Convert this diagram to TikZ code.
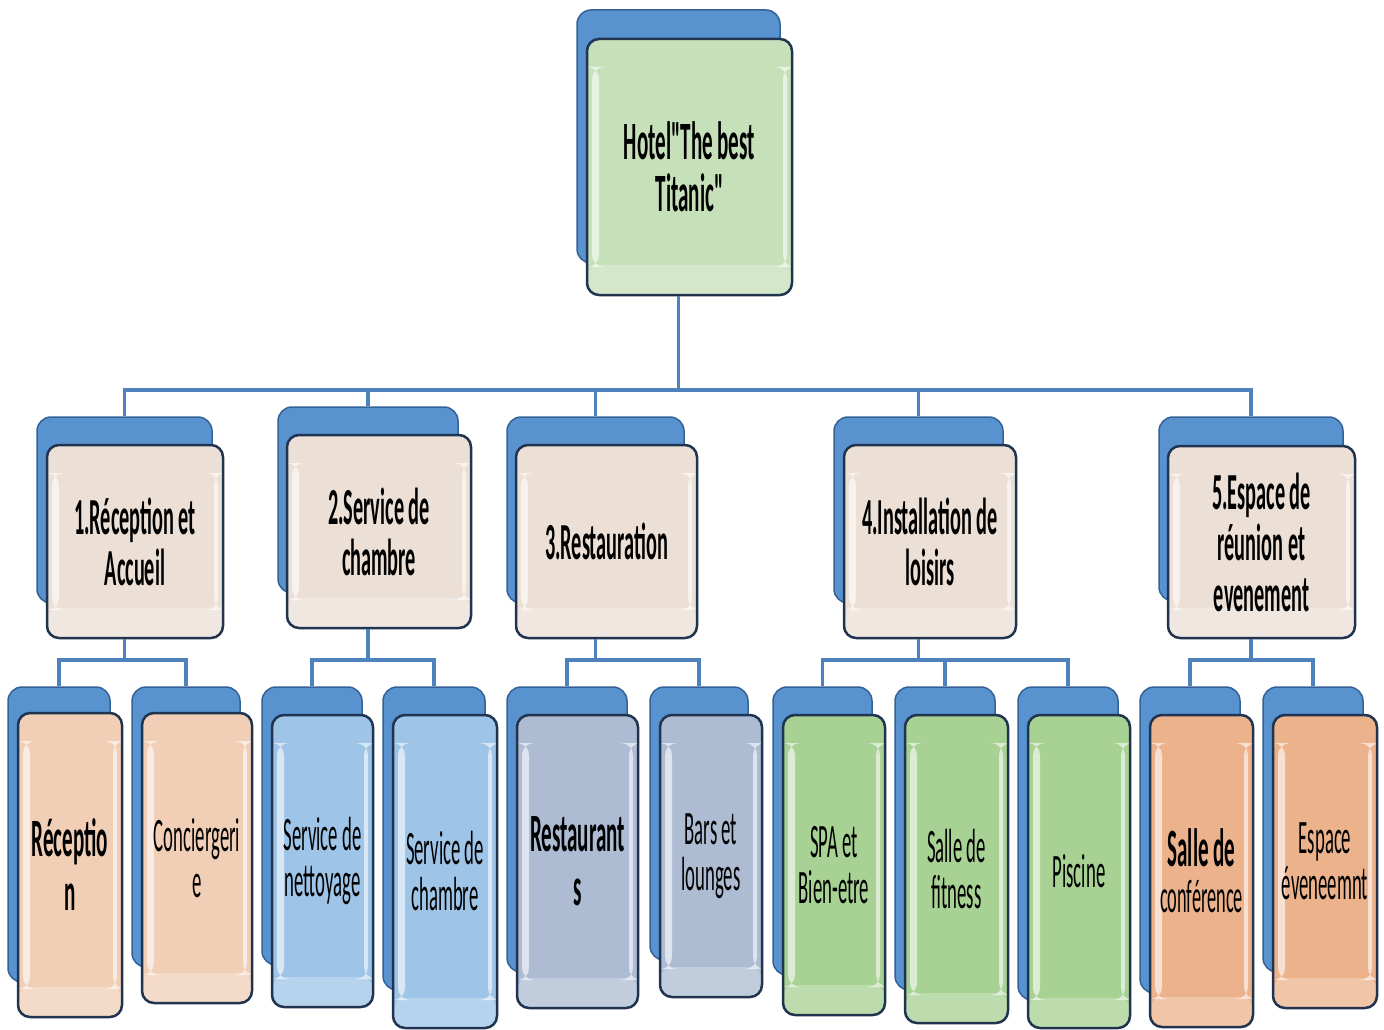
\documentclass[tikz,border=0pt]{standalone}
\usepackage{fontspec}
\newfontfamily\orgfont[FakeStretch=0.39]{Carlito}

\definecolor{backblue}{RGB}{88,146,207}
\definecolor{backline}{RGB}{52,98,150}
\definecolor{frontline}{RGB}{32,52,80}
\definecolor{linkblue}{RGB}{79,129,189}
\definecolor{hotelgreen}{RGB}{198,224,186}
\definecolor{levelbeige}{RGB}{236,224,214}
\definecolor{accpeach}{RGB}{241,206,182}
\definecolor{servblue}{RGB}{158,197,232}
\definecolor{restgrey}{RGB}{173,188,210}
\definecolor{loisgreen}{RGB}{168,209,148}
\definecolor{esporange}{RGB}{236,178,140}

\tikzset{
  backbox/.style={draw=backline, fill=backblue, line width=1.5pt, rounded corners=14pt, inner sep=0pt},
  frontbox/.style={draw=frontline, line width=2.5pt, rounded corners=12pt, inner sep=0pt, align=center,
    path picture={
      \fill[white,opacity=0.6] ([xshift=5pt,yshift=-28pt]path picture bounding box.north west) rectangle ([xshift=12pt,yshift=28pt]path picture bounding box.south west);
      \fill[white,opacity=0.6] ([xshift=-5pt,yshift=-28pt]path picture bounding box.north east) rectangle ([xshift=-9pt,yshift=28pt]path picture bounding box.south east);
      \fill[white,opacity=0.25] (path picture bounding box.south west) rectangle ([yshift=30pt]path picture bounding box.south east);
    }},
  bigbold/.style={font=\orgfont\bfseries\fontsize{54}{52}\selectfont},
  midbold/.style={font=\orgfont\bfseries\fontsize{52}{51}\selectfont},
  leafbold/.style={font=\orgfont\bfseries\fontsize{54}{54}\selectfont},
  leaf/.style={font=\orgfont\fontsize{48}{46}\selectfont},
  link/.style={draw=linkblue, line width=3.5pt},
}

\begin{document}
\begin{tikzpicture}[x=1pt,y=1pt,yscale=-1]
  \useasboundingbox (0,0) rectangle (1384,1030);

  % Hotel
  \node[backbox, minimum width=203pt, minimum height=253pt] (b-hotel) at (678.5,136.5) {};
  \node[frontbox, bigbold, fill=hotelgreen, minimum width=205pt, minimum height=256pt] (hotel) at (689.5,167) {Hotel"The best\\Titanic"};

  % level 1
  \node[backbox, minimum width=175pt, minimum height=186pt] (b-rec) at (124.5,510) {};
  \node[frontbox, midbold, fill=levelbeige, minimum width=176pt, minimum height=193pt] (rec) at (135,541.5) {1.Réception et\\Accueil};
  \node[backbox, minimum width=180pt, minimum height=186pt] (b-serv) at (368,500) {};
  \node[frontbox, midbold, fill=levelbeige, minimum width=184pt, minimum height=193pt] (serv) at (379,531.5) {2.Service de\\chambre};
  \node[backbox, minimum width=177pt, minimum height=186pt] (b-rest) at (595.5,510) {};
  \node[frontbox, midbold, fill=levelbeige, minimum width=181pt, minimum height=193pt] (rest) at (606.5,541.5) {3.Restauration};
  \node[backbox, minimum width=169pt, minimum height=186pt] (b-lois) at (918.5,510) {};
  \node[frontbox, midbold, fill=levelbeige, minimum width=172pt, minimum height=193pt] (lois) at (930,541.5) {4.Installation de\\loisirs};
  \node[backbox, minimum width=184pt, minimum height=184pt] (b-esp) at (1251,509) {};
  \node[frontbox, midbold, fill=levelbeige, minimum width=187pt, minimum height=192pt] (esp) at (1261.5,542) {5.Espace de\\réunion et\\evenement};

  % level 2
  \node[backbox, minimum width=102pt, minimum height=295pt] (b-reception) at (59,834.5) {};
  \node[frontbox, leafbold, fill=accpeach, minimum width=104pt, minimum height=304pt] (reception) at (70,865) {Réceptio\\n};
  \node[backbox, minimum width=108pt, minimum height=280pt] (b-conc) at (186,827) {};
  \node[frontbox, leaf, fill=accpeach, minimum width=110pt, minimum height=290pt] (conc) at (197,858) {Conciergeri\\e};
  \node[backbox, minimum width=100pt, minimum height=278pt] (b-nett) at (312,826) {};
  \node[frontbox, leaf, fill=servblue, minimum width=101pt, minimum height=292pt] (nett) at (322.5,861) {Service de\\nettoyage};
  \node[backbox, minimum width=102pt, minimum height=303pt] (b-chamb) at (434,838.5) {};
  \node[frontbox, leaf, fill=servblue, minimum width=104pt, minimum height=313pt] (chamb) at (445,871.5) {Service de\\chambre};
  \node[backbox, minimum width=120pt, minimum height=285pt] (b-resto) at (567,829.5) {};
  \node[frontbox, leafbold, fill=restgrey, minimum width=121pt, minimum height=293pt] (resto) at (577.5,861.5) {Restaurant\\s};
  \node[backbox, minimum width=98pt, minimum height=273pt] (b-bars) at (699,823.5) {};
  \node[frontbox, leaf, fill=restgrey, minimum width=102pt, minimum height=282pt] (bars) at (711,856) {Bars et\\lounges};
  \node[backbox, minimum width=99pt, minimum height=288pt] (b-spa) at (822.5,831) {};
  \node[frontbox, leaf, fill=loisgreen, minimum width=102pt, minimum height=300pt] (spa) at (834,865) {SPA et\\Bien-etre};
  \node[backbox, minimum width=100pt, minimum height=303pt] (b-fit) at (945,838.5) {};
  \node[frontbox, leaf, fill=loisgreen, minimum width=103pt, minimum height=308pt] (fit) at (956.5,869) {Salle de\\fitness};
  \node[backbox, minimum width=100pt, minimum height=313pt] (b-pisc) at (1068,843.5) {};
  \node[frontbox, leaf, fill=loisgreen, minimum width=102pt, minimum height=313pt] (pisc) at (1079,871.5) {Piscine};
  \node[backbox, minimum width=100pt, minimum height=306pt] (b-conf) at (1190,840) {};
  \node[frontbox, leaf, fill=esporange, minimum width=103pt, minimum height=312pt] (conf) at (1201.5,871) {{\bfseries\fontsize{54}{52}\selectfont Salle de}\\{\fontsize{47}{45}\selectfont conférence}};
  \node[backbox, minimum width=100pt, minimum height=285pt] (b-event) at (1313,829.5) {};
  \node[frontbox, leaf, fill=esporange, minimum width=104pt, minimum height=293pt] (event) at (1325,861.5) {Espace\\éveneemnt};

  % connectors
  \coordinate (busA) at (0,390);
  \coordinate (busB) at (0,660);
  \foreach \c in {rec,serv,rest,lois,esp}
    \draw[link] (b-hotel.south |- hotel.south) -- (b-hotel.south |- busA) -| (b-\c.north);
  \foreach \p/\c in {rec/reception,rec/conc,serv/nett,serv/chamb,rest/resto,rest/bars,lois/spa,lois/fit,lois/pisc,esp/conf,esp/event}
    \draw[link] (b-\p.south |- \p.south) -- (b-\p.south |- busB) -| (b-\c.north);
\end{tikzpicture}
\end{document}
